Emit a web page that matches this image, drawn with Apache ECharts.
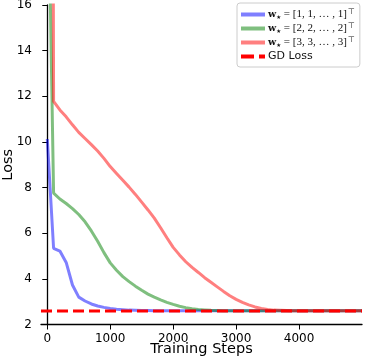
<!DOCTYPE html>
<html>
<head>
<meta charset="utf-8">
<script src="https://cdn.jsdelivr.net/npm/echarts@6/dist/echarts.min.js"></script>
<style>html,body{margin:0;padding:0;background:#fff}#c{width:365px;height:360px}</style>
</head>
<body>
<div id="c"></div>
<script>
const steps = [0,100,200,300,400,500,600,700,800,900,1000,1100,1200,1300,1400,1500,1600,1700,1800,1900,2000,2100,2200,2300,2400,2500,2600,2700,2800,2900,3000,3100,3200,3300,3400,3500,3600,3700,3800,3900,4000,4100,4200,4300,4400,4500,4600,4700,4800,4900,5000];
const lossW1 = [10.13,5.34,5.22,4.72,3.73,3.2,3.03,2.9,2.81,2.75,2.7,2.67,2.65,2.63,2.62,2.61,2.61,2.6,2.6,2.6,2.6,2.6,2.6,2.6,2.6,2.6,2.6,2.6,2.6,2.6,2.6,2.6,2.6,2.6,2.6,2.6,2.6,2.6,2.6,2.6,2.6,2.6,2.6,2.6,2.6,2.6,2.6,2.6,2.6,2.6,2.6];
const lossW2 = [24,7.76,7.5,7.3,7.08,6.82,6.5,6.1,5.65,5.15,4.7,4.38,4.1,3.88,3.68,3.5,3.33,3.2,3.08,2.97,2.88,2.8,2.74,2.69,2.66,2.64,2.62,2.61,2.6,2.6,2.6,2.6,2.6,2.6,2.6,2.6,2.6,2.6,2.6,2.6,2.6,2.6,2.6,2.6,2.6,2.6,2.6,2.6,2.6,2.6,2.6];
const lossW3 = [120,11.78,11.4,11.1,10.75,10.42,10.15,9.88,9.6,9.28,8.92,8.62,8.32,8.02,7.7,7.36,7.02,6.66,6.24,5.8,5.38,5.05,4.75,4.5,4.28,4.05,3.85,3.65,3.45,3.26,3.1,2.97,2.86,2.77,2.7,2.66,2.63,2.62,2.61,2.6,2.6,2.6,2.6,2.6,2.6,2.6,2.6,2.6,2.6,2.6,2.6];
const gdSteps = [-100, 5000];
const gdLoss = [2.59, 2.59];
const xTicks = [0,1000,2000,3000,4000];
const yTicks = [2,4,6,8,10,12,14,16];
const legendLabels = {
  w1: '{b|w}{s|★}{m| = [1, 1, … , 1]}{t|⊤}',
  w2: '{b|w}{s|★}{m| = [2, 2, … , 2]}{t|⊤}',
  w3: '{b|w}{s|★}{m| = [3, 3, … , 3]}{t|⊤}',
  'GD Loss': '{g|GD Loss}'
};

const pair = (xs, ys) => xs.map((x, i) => [x, ys[i]]);
const FONT = 'DejaVu Sans';
const chart = echarts.init(document.getElementById('c'), null, {renderer: 'canvas'});
const lineSeries = (name, ys, color) => ({
  name, type: 'line', data: pair(steps, ys), symbol: 'none', clip: true,
  lineStyle: {color, width: 3}, itemStyle: {color}, emphasis: {disabled: true}
});
chart.setOption({
  animation: false,
  grid: {left: 41, right: 3, top: 5, bottom: 35.5, containLabel: false, outerBoundsMode: 'none'},
  xAxis: {
    type: 'value', min: -100, max: 5000,
    name: 'Training Steps', nameLocation: 'middle', nameGap: 17, nameMoveOverlap: false,
    nameTextStyle: {fontFamily: FONT, fontSize: 14.5, color: '#000', verticalAlign: 'top'},
    axisLine: {show: true, lineStyle: {color: '#000', width: 1.3}},
    axisTick: {show: true, length: 5, lineStyle: {color: '#000', width: 1}, customValues: xTicks},
    axisLabel: {fontFamily: FONT, fontSize: 12, color: '#000', margin: 8, customValues: xTicks,
      formatter: v => String(v)},
    splitLine: {show: false}
  },
  yAxis: {
    type: 'value', min: 2, max: 16, interval: 2,
    name: 'Loss', nameLocation: 'middle', nameGap: 25, nameMoveOverlap: false,
    nameTextStyle: {fontFamily: FONT, fontSize: 14.5, color: '#000'},
    axisLine: {show: true, lineStyle: {color: '#000', width: 1.3}},
    axisTick: {show: true, length: 5, lineStyle: {color: '#000', width: 1}},
    axisLabel: {show: true, fontFamily: FONT, fontSize: 12, color: '#000', margin: 9,
      showMinLabel: true, showMaxLabel: true, formatter: v => String(v)},
    splitLine: {show: false}
  },
  legend: {
    orient: 'vertical', left: 237, top: 3,
    padding: [5, 5, 4, 4], itemGap: 1, itemWidth: 24, itemHeight: 4,
    borderColor: '#cccccc', borderWidth: 1, borderRadius: 3,
    backgroundColor: 'rgba(255,255,255,0.85)',
    data: [
      {name: 'w1', icon: 'rect'},
      {name: 'w2', icon: 'rect'},
      {name: 'w3', icon: 'rect'},
      {name: 'GD Loss', icon: 'path://M0,0H13V4H0Z M18,0H24V4H18Z'}
    ],
    formatter: n => legendLabels[n],
    textStyle: {
      fontFamily: FONT, fontSize: 11, color: '#111', lineHeight: 13, padding: [0,0,0,-2],
      rich: {
        b: {fontFamily: 'DejaVu Serif', fontWeight: 'bold', fontSize: 9.5, lineHeight: 13},
        s: {fontFamily: 'DejaVu Sans', fontSize: 5.5, lineHeight: 13, verticalAlign: 'bottom'},
        m: {fontFamily: 'Liberation Serif', fontSize: 11, lineHeight: 13},
        t: {fontFamily: 'DejaVu Sans', fontSize: 8, lineHeight: 13, verticalAlign: 'top', padding: [0,0,5,1]},
        g: {fontFamily: FONT, fontSize: 11, lineHeight: 13}
      }
    }
  },
  series: [
    lineSeries('w1', lossW1, 'rgba(0,0,255,0.5)'),
    lineSeries('w2', lossW2, 'rgba(0,128,0,0.5)'),
    lineSeries('w3', lossW3, 'rgba(255,0,0,0.5)'),
    {
      name: 'GD Loss', type: 'line', data: pair(gdSteps, gdLoss), symbol: 'none', z: 5,
      lineStyle: {color: '#ff0000', width: 3, type: [11, 5]}, itemStyle: {color: '#ff0000'},
      emphasis: {disabled: true}
    }
  ]
});
</script>
</body>
</html>
